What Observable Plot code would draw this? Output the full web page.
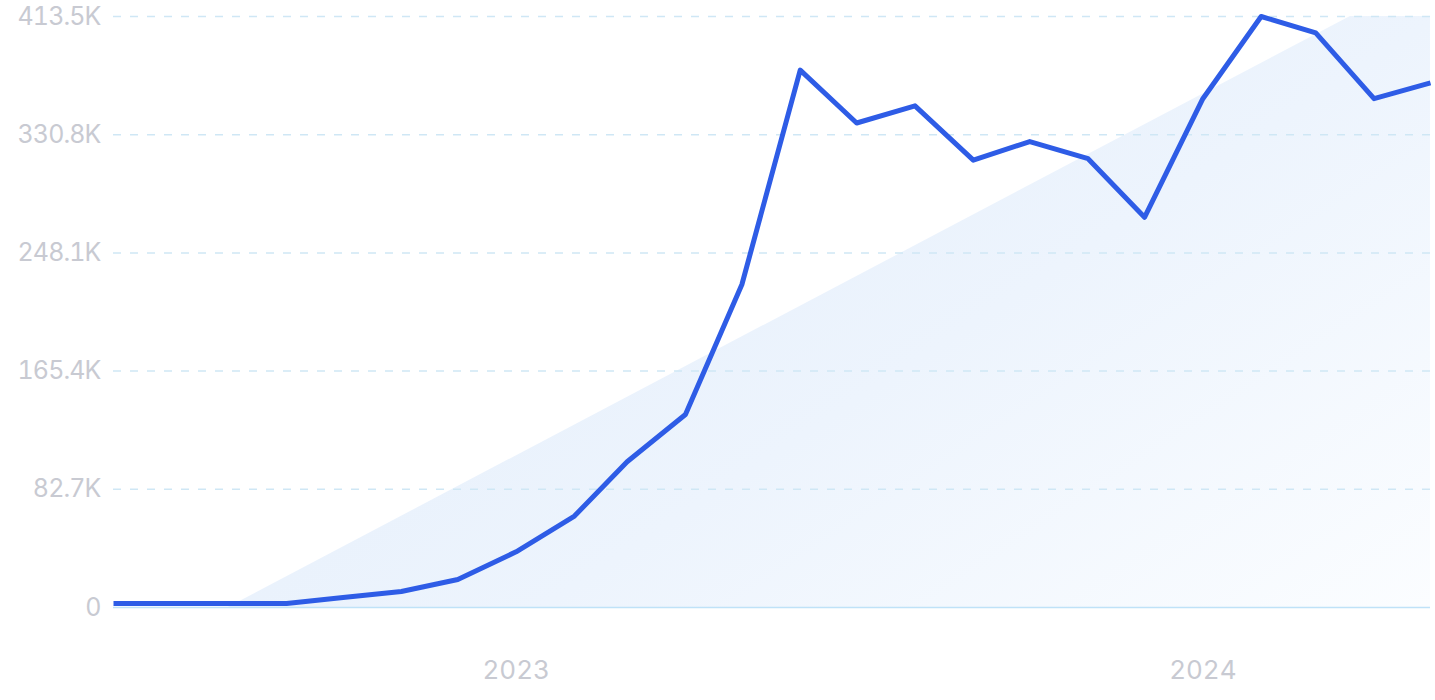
<!DOCTYPE html>
<html>
<head>
<meta charset="utf-8">
<script src="https://cdn.jsdelivr.net/npm/d3@7"></script>
<script src="https://cdn.jsdelivr.net/npm/@observablehq/plot@0.6"></script>
<style>
  html, body { margin: 0; padding: 0; background: #ffffff; }
  #chart { width: 1435px; height: 700px; }
  .yax text { letter-spacing: -0.9px; }
</style>
</head>
<body>
<div id="chart"></div>
<script>
// Monthly values (Jun 2022 – May 2024)
const months = [
  "2022-06","2022-07","2022-08","2022-09","2022-10","2022-11","2022-12",
  "2023-01","2023-02","2023-03","2023-04","2023-05","2023-06","2023-07",
  "2023-08","2023-09","2023-10","2023-11","2023-12",
  "2024-01","2024-02","2024-03","2024-04","2024-05"
];
const values = [
  2800, 2800, 2800, 2800, 7000, 11200, 19600,
  39000, 64000, 102000, 135000, 226000, 376000, 339000,
  351000, 313000, 326000, 314000, 273000,
  356000, 413500, 402000, 356000, 367000
];
// Trend line (background area)
const trendMonths = ["2022-08", "2024-05"];
const trendValues = [0, 443000];
// Axis ticks
const yTicks = [0, 82700, 165400, 248100, 330800, 413500];
const yTickLabels = ["0", "82.7K", "165.4K", "248.1K", "330.8K", "413.5K"];
const xTicks = ["2023-01", "2024-01"];
const xTickLabels = ["2023", "2024"];

const parse = d3.utcParse("%Y-%m");
const series = months.map((m, i) => ({date: parse(m), value: values[i]}));
const trend = trendMonths.map((m, i) => ({date: parse(m), value: trendValues[i]}));
const xTickDates = xTicks.map(parse);

const chart = Plot.plot({
  width: 1435,
  height: 700,
  marginLeft: 113,
  marginRight: 5,
  marginTop: 16,
  marginBottom: 93,
  style: {fontFamily: "Inter, 'Noto Sans', sans-serif", fontSize: "26px", color: "#c8cad2", background: "#ffffff", overflow: "visible"},
  x: {type: "utc", domain: [parse("2022-06"), parse("2024-05")]},
  y: {domain: [0, 413500]},
  marks: [
    Plot.areaY(trend, {x: "date", y: "value", fill: "url(#trendGrad)", clip: true}),
    Plot.ruleY(yTicks.filter(d => d > 0), {stroke: "#cfe7f5", strokeWidth: 1.5, strokeDasharray: "8,9"}),
    Plot.ruleY([0], {stroke: "#bfe2f8", strokeWidth: 1.5}),
    Plot.line(series, {x: "date", y: "value", stroke: "#2e5ce6", strokeWidth: 5, strokeLinejoin: "round", strokeLinecap: "butt"}),
    Plot.axisY({ticks: yTicks, tickSize: 0, tickPadding: 13, label: null, className: "yax", fontSize: 25,
      tickFormat: d => yTickLabels[yTicks.indexOf(d)], fill: "#c8cad2"}),
    Plot.axisX({ticks: xTickDates, tickSize: 0, tickPadding: 53, label: null,
      tickFormat: d => xTickLabels[xTickDates.findIndex(t => +t === +d)], fill: "#c8cad2"})
  ]
});

const svg = d3.select(chart);
const defs = svg.insert("defs", ":first-child");
const grad = defs.append("linearGradient")
  .attr("id", "trendGrad")
  .attr("x1", "0").attr("y1", "0.2")
  .attr("x2", "1").attr("y2", "1");
grad.append("stop").attr("offset", "0%").attr("stop-color", "#e2edfa");
grad.append("stop").attr("offset", "55%").attr("stop-color", "#edf4fd");
grad.append("stop").attr("offset", "100%").attr("stop-color", "#fbfdff");

document.getElementById("chart").appendChild(chart);
</script>
</body>
</html>
